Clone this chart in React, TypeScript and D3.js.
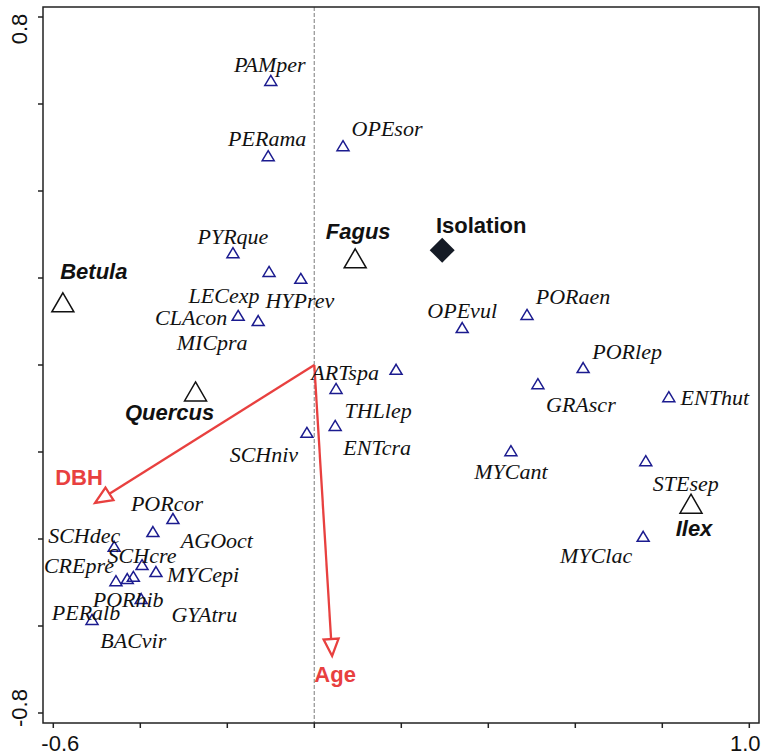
import * as d3 from "d3";
import * as React from "react";

// species scores (axis 1, axis 2)
const speciesNames = [
  "PAMper", "PERama", "OPEsor", "PYRque", "LECexp", "HYPrev", "CLAcon", "MICpra",
  "ARTspa", "THLlep", "ENTcra", "SCHniv", "OPEvul", "PORaen", "PORlep", "GRAscr",
  "ENThut", "MYCant", "STEsep", "MYClac", "PORcor", "AGOoct", "SCHdec", "SCHcre",
  "MYCepi", "CREpre", "BACvir", "GYAtru", "PORhib", "PERalb",
];
const speciesX = [
  -0.100, -0.106, 0.066, -0.187, -0.104, -0.031, -0.175, -0.129,
  0.188, 0.050, 0.048, -0.017, 0.340, 0.489, 0.618, 0.514,
  0.815, 0.452, 0.762, 0.756, -0.325, -0.371, -0.460, -0.396,
  -0.364, -0.456, -0.430, -0.416, -0.398, -0.511,
];
const speciesY = [
  0.653, 0.480, 0.503, 0.257, 0.214, 0.198, 0.113, 0.101,
  -0.011, -0.055, -0.140, -0.156, 0.085, 0.115, -0.007, -0.044,
  -0.074, -0.198, -0.221, -0.395, -0.354, -0.384, -0.418, -0.460,
  -0.476, -0.497, -0.492, -0.487, -0.538, -0.586,
];

// tree species (nominal variables)
const treeNames = ["Betula", "Quercus", "Fagus", "Ilex"];
const treeX = [-0.578, -0.273, 0.094, 0.866];
const treeY = [0.143, -0.062, 0.244, -0.320];

// supplementary variable
const suppNames = ["Isolation"];
const suppX = [0.294];
const suppY = [0.264];

// quantitative variables (arrows)
const envNames = ["DBH", "Age"];
const envX = [-0.504, 0.041];
const envY = [-0.317, -0.669];

const xTicks = [-0.6, -0.4, -0.2, 0, 0.2, 0.4, 0.6, 0.8, 1.0];
const yTicks = [-0.8, -0.6, -0.4, -0.2, 0, 0.2, 0.4, 0.6, 0.8];

// label placement, pixels from the point (text baseline, centred)
const speciesLabelOffset: Record<string, [number, number]> = {
  PAMper: [-1, -9], PERama: [-1, -10], OPEsor: [44, -10], PYRque: [0, -9],
  LECexp: [-45, 31], HYPrev: [-1, 29], CLAcon: [-47, 9], MICpra: [-46, 29],
  ARTspa: [-51, 10], THLlep: [42, 29], ENTcra: [42, 29], SCHniv: [-43, 29],
  OPEvul: [0, -10], PORaen: [46, -11], PORlep: [44, -9], GRAscr: [43, 28],
  ENThut: [46, 8], MYCant: [0, 28], STEsep: [40, 30], MYClac: [-47, 26],
  PORcor: [-6, -8], AGOoct: [64, 16], SCHdec: [-30, -4], SCHcre: [0, -2],
  MYCepi: [47, 10], CREpre: [-37, -8], BACvir: [6, 69], GYAtru: [71, 45],
  PORhib: [-13, 8], PERalb: [-6, 0],
};
const treeLabelOffset: Record<string, [number, number]> = {
  Betula: [31, -24], Quercus: [-26, 28], Fagus: [3, -20], Ilex: [3, 32],
};
const suppLabelOffset: [number, number] = [39, -17];
const envLabelOffset: Record<string, [number, number]> = {
  DBH: [-16, -18], Age: [3, 26],
};

const W = 762;
const H = 754;
const frame = { left: 43, right: 759, top: 7, bottom: 723 };

const RED = "#e8403f";
const NAVY = "#1b1b8f";

export default function App() {
  const x = d3.scaleLinear().domain([-0.6, 1.0]).range([53.3, 749.3]);
  const y = d3.scaleLinear().domain([-0.8, 0.8]).range([713, 17]);

  const smallTri = d3.line()([[0, -5.5], [6, 4.5], [-6, 4.5]]) + "Z";
  const bigTri = d3.line()([[0, -10], [11, 9], [-11, 9]]) + "Z";
  const diamond = "M0,-12.5L12.5,0L0,12.5L-12.5,0Z";

  const ox = x(0);
  const oy = y(0);

  return (
    <svg
      width={W}
      height={H}
      style={{ position: "absolute", left: 0, top: 0, background: "#fff" }}
    >
      {/* dashed zero line */}
      <line
        x1={ox} x2={ox} y1={frame.top} y2={frame.bottom}
        stroke="#a0a0a0" strokeWidth={1.4} strokeDasharray="4,2"
      />

      {/* frame */}
      <rect
        x={frame.left} y={frame.top}
        width={frame.right - frame.left} height={frame.bottom - frame.top}
        fill="none" stroke="#222" strokeWidth={1.5}
      />
      {yTicks.map((t) => (
        <line key={"yt" + t} x1={frame.left - 5} x2={frame.left} y1={y(t)} y2={y(t)} stroke="#222" strokeWidth={1.5} />
      ))}
      {xTicks.map((t) => (
        <line key={"xt" + t} x1={x(t)} x2={x(t)} y1={frame.bottom} y2={frame.bottom + 5} stroke="#222" strokeWidth={1.5} />
      ))}
      <g fontFamily="Liberation Sans, Arial, sans-serif" fontSize={22} fill="#111">
        <text textAnchor="middle" transform={`translate(27,${y(0.8) + 12}) rotate(-90)`}>0.8</text>
        <text textAnchor="middle" transform={`translate(27,${y(-0.8) - 5}) rotate(-90)`}>-0.8</text>
        <text textAnchor="middle" x={x(-0.6) + 7} y={751}>-0.6</text>
        <text textAnchor="middle" x={x(1.0) - 4} y={751}>1.0</text>
      </g>

      {/* environmental arrows */}
      {envNames.map((n, i) => {
        const tx = x(envX[i]);
        const ty = y(envY[i]);
        const ang = Math.atan2(ty - oy, tx - ox);
        const len = 17;
        const hw = 7.5;
        const bx = tx - len * Math.cos(ang);
        const by = ty - len * Math.sin(ang);
        const px = -Math.sin(ang) * hw;
        const py = Math.cos(ang) * hw;
        const head = `M${tx},${ty}L${bx + px},${by + py}L${bx - px},${by - py}Z`;
        const [dx, dy] = envLabelOffset[n];
        return (
          <g key={n}>
            <line x1={ox} y1={oy} x2={bx} y2={by} stroke={RED} strokeWidth={2.3} />
            <path d={head} fill="none" stroke={RED} strokeWidth={2.3} strokeLinejoin="miter" />
            <text
              x={tx + dx} y={ty + dy} textAnchor="middle"
              fontFamily="Liberation Sans, Arial, sans-serif" fontWeight="bold"
              fontSize={22} fill={RED}
            >{n}</text>
          </g>
        );
      })}

      {/* species */}
      {speciesNames.map((n, i) => {
        const px = x(speciesX[i]);
        const py = y(speciesY[i]);
        const [dx, dy] = speciesLabelOffset[n];
        return (
          <g key={n}>
            <path d={smallTri} transform={`translate(${px},${py})`} fill="none" stroke={NAVY} strokeWidth={1.5} />
            <text
              x={px + dx} y={py + dy} textAnchor="middle"
              fontFamily="Liberation Serif, Times New Roman, serif" fontStyle="italic"
              fontSize={22} fill="#111"
            >{n}</text>
          </g>
        );
      })}

      {/* tree species */}
      {treeNames.map((n, i) => {
        const px = x(treeX[i]);
        const py = y(treeY[i]);
        const [dx, dy] = treeLabelOffset[n];
        return (
          <g key={n}>
            <path d={bigTri} transform={`translate(${px},${py})`} fill="#fff" stroke="#111" strokeWidth={1.5} />
            <text
              x={px + dx} y={py + dy} textAnchor="middle"
              fontFamily="Liberation Sans, Arial, sans-serif" fontWeight="bold" fontStyle="italic"
              fontSize={22} fill="#111"
            >{n}</text>
          </g>
        );
      })}

      {/* supplementary variable */}
      {suppNames.map((n, i) => {
        const px = x(suppX[i]);
        const py = y(suppY[i]);
        return (
          <g key={n}>
            <path d={diamond} transform={`translate(${px},${py})`} fill="#151b26" />
            <text
              x={px + suppLabelOffset[0]} y={py + suppLabelOffset[1]} textAnchor="middle"
              fontFamily="Liberation Sans, Arial, sans-serif" fontWeight="bold"
              fontSize={22} fill="#111"
            >{n}</text>
          </g>
        );
      })}
    </svg>
  );
}
